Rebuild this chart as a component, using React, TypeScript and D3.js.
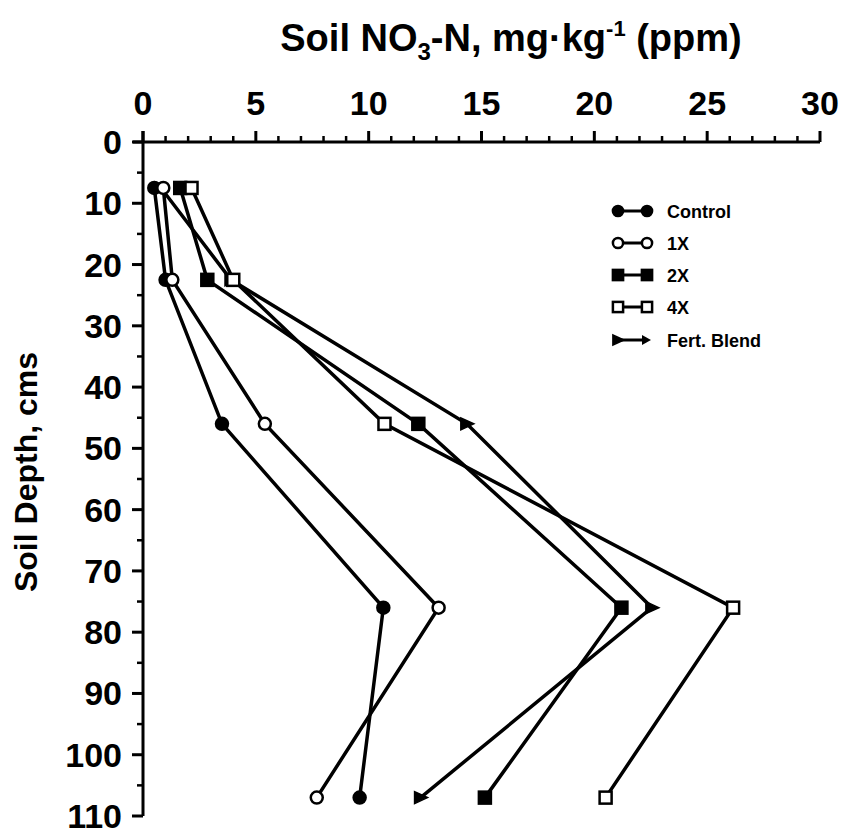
import React from 'react';
import * as d3 from 'd3';

const depths = [7.5, 22.5, 46, 76, 107];
const seriesNames = ['Control', '1X', '2X', '4X', 'Fert. Blend'];
const seriesKinds = ['circleFilled', 'circleOpen', 'squareFilled', 'squareOpen', 'triangle'];
const control = [0.5, 1.0, 3.5, 10.65, 9.6];
const oneX = [0.9, 1.3, 5.4, 13.1, 7.7];
const twoX = [1.65, 2.85, 12.2, 21.2, 15.15];
const fourX = [2.15, 4.0, 10.7, 26.15, 20.5];
const fertBlend = [0.8, 3.9, 14.35, 22.55, 12.3];
const seriesValues = [control, oneX, twoX, fourX, fertBlend];

const xTicks = [0, 5, 10, 15, 20, 25, 30];
const yTicks = [0, 10, 20, 30, 40, 50, 60, 70, 80, 90, 100, 110];

const FONT = '"Liberation Sans", Arial, Helvetica, sans-serif';

function Marker({ kind, cx, cy, s = 1 }: { kind: string; cx: number; cy: number; s?: number }) {
  const sw = 2.5;
  if (kind === 'circleFilled') return <circle cx={cx} cy={cy} r={6 * s} fill="#000" stroke="#000" strokeWidth={sw} />;
  if (kind === 'circleOpen') return <circle cx={cx} cy={cy} r={6 * s} fill="#fff" stroke="#000" strokeWidth={sw} />;
  if (kind === 'squareFilled') return <rect x={cx - 6 * s} y={cy - 6 * s} width={12 * s} height={12 * s} fill="#000" stroke="#000" strokeWidth={sw} />;
  if (kind === 'squareOpen') return <rect x={cx - 6 * s} y={cy - 6 * s} width={12 * s} height={12 * s} fill="#fff" stroke="#000" strokeWidth={sw} />;
  const p = [[-6, -6], [7, 0], [-6, 6]].map(([a, b]) => `${cx + a * s},${cy + b * s}`).join(' ');
  return <polygon points={p} fill="#000" stroke="#000" strokeWidth={1.5} strokeLinejoin="miter" />;
}

export default function App() {
  const x = d3.scaleLinear().domain([0, 30]).range([143, 820]);
  const y = d3.scaleLinear().domain([0, 110]).range([142, 816]);
  const line = d3.line<[number, number]>().x(d => x(d[0])).y(d => y(d[1]));

  const minorX = d3.range(0, 31, 1).filter(v => v % 5 !== 0);
  const minorY = d3.range(5, 111, 10);

  const drawOrder = [4, 0, 1, 2, 3];

  const legendX = 618;
  const legendYs = [211, 243, 275, 307, 340];

  return (
    <svg width={842} height={840} style={{ position: 'absolute', left: 0, top: 0, background: '#fff' }} fontFamily={FONT}>
      <rect x={0} y={0} width={842} height={840} fill="#fff" />
      {/* Title */}
      <text x={511} y={51} textAnchor="middle" fontSize={38} fontWeight={700} fill="#000">
        Soil NO<tspan fontSize={24} dy={9}>3</tspan><tspan dy={-9}>-N, mg·kg</tspan><tspan fontSize={22} dy={-15}>-1</tspan><tspan dy={15}> (ppm)</tspan>
      </text>

      {/* X axis (top) */}
      <line x1={133} x2={x(30)} y1={y(0)} y2={y(0)} stroke="#000" strokeWidth={3} />
      {xTicks.map(t => (
        <g key={'xt' + t}>
          <line x1={x(t)} x2={x(t)} y1={y(0)} y2={y(0) - 11} stroke="#000" strokeWidth={3} />
          <text x={x(t)} y={115} textAnchor="middle" fontSize={34} fontWeight={700}>{t}</text>
        </g>
      ))}
      {minorX.map(t => (
        <line key={'xm' + t} x1={x(t)} x2={x(t)} y1={y(0)} y2={y(0) - 6} stroke="#000" strokeWidth={2.5} />
      ))}

      {/* Y axis */}
      <line x1={x(0)} x2={x(0)} y1={y(0) - 11} y2={y(110)} stroke="#000" strokeWidth={3} />
      {yTicks.map(t => (
        <g key={'yt' + t}>
          <line x1={x(0)} x2={x(0) - 11} y1={y(t)} y2={y(t)} stroke="#000" strokeWidth={3} />
          <text x={122} y={y(t) + 12} textAnchor="end" fontSize={34} fontWeight={700}>{t}</text>
        </g>
      ))}
      {minorY.map(t => (
        <line key={'ym' + t} x1={x(0)} x2={x(0) - 6} y1={y(t)} y2={y(t)} stroke="#000" strokeWidth={2.5} />
      ))}
      <text transform={`translate(37,472) rotate(-90)`} textAnchor="middle" fontSize={32} fontWeight={700}>Soil Depth, cms</text>

      {/* Lines */}
      {drawOrder.map(i => (
        <path key={'l' + i} d={line(seriesValues[i].map((v, j) => [v, depths[j]] as [number, number])) || ''} fill="none" stroke="#000" strokeWidth={3.5} strokeLinejoin="miter" />
      ))}
      {/* Markers */}
      {drawOrder.map(i => (
        <g key={'m' + i}>
          {seriesValues[i].map((v, j) => (
            <Marker key={j} kind={seriesKinds[i]} cx={x(v)} cy={y(depths[j])} />
          ))}
        </g>
      ))}

      {/* Legend */}
      {seriesNames.map((name, i) => (
        <g key={'lg' + i}>
          <line x1={legendX} x2={legendX + 29} y1={legendYs[i]} y2={legendYs[i]} stroke="#000" strokeWidth={3} />
          <Marker kind={seriesKinds[i]} cx={legendX} cy={legendYs[i]} s={0.85} />
          {i === 4 ? (
            <polygon points={`${legendX + 24},${legendYs[i] - 5} ${legendX + 33},${legendYs[i]} ${legendX + 24},${legendYs[i] + 5}`} fill="#000" />
          ) : (
            <Marker kind={seriesKinds[i]} cx={legendX + 29} cy={legendYs[i]} s={0.85} />
          )}
          <text x={legendX + 49} y={legendYs[i] + 7} fontSize={18} fontWeight={700}>{name}</text>
        </g>
      ))}
    </svg>
  );
}
